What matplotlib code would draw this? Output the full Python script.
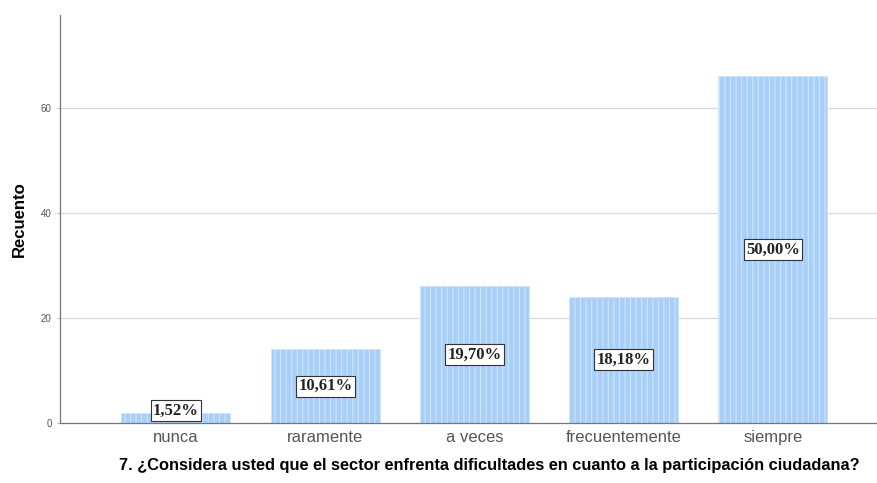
import matplotlib
matplotlib.use("Agg")
import matplotlib.pyplot as plt

categories = ["nunca", "raramente", "a veces", "frecuentemente", "siempre"]
counts = [2, 14, 26, 24, 66]
pct_labels = ["1,52%", "10,61%", "19,70%", "18,18%", "50,00%"]
y_ticks = [0, 20, 40, 60]

plt.rcParams['hatch.color'] = '#CFE4FA'
plt.rcParams['hatch.linewidth'] = 0.8

fig = plt.figure(figsize=(8.77, 4.83), dpi=100)
ax = fig.add_axes([0.0684, 0.1242, 0.9316, 0.845])

x = list(range(len(categories)))
ax.bar(x, counts, width=0.73, color='#A8CFF8', edgecolor='#CFE4FA', linewidth=0.6,
       hatch='|||', zorder=2)

for xi, c, lab in zip(x, counts, pct_labels):
    ypos = max(c / 2, 2.4)
    ax.text(xi, ypos, lab, ha='center', va='center', fontsize=12, fontweight='bold',
            family='Liberation Serif', color='#222222', zorder=4,
            bbox=dict(boxstyle='square,pad=0.15', facecolor='white', edgecolor='#333333', linewidth=0.8))

ax.set_xlim(-0.777, 4.697)
ax.set_ylim(0, 77.7)
ax.set_yticks(y_ticks)
ax.set_yticklabels([str(v) for v in y_ticks], fontsize=7, color='#555555', family='Liberation Sans')
ax.set_xticks(x)
ax.set_xticklabels(categories, fontsize=12, color='#555555', family='Liberation Sans')
ax.tick_params(axis='x', length=0, pad=5)
ax.tick_params(axis='y', length=2, color='#BBBBBB', pad=4)

ax.yaxis.grid(True, color='#D9D9D9', linewidth=0.9, zorder=0)
ax.set_axisbelow(True)
for s in ['top', 'right']:
    ax.spines[s].set_visible(False)
ax.spines['left'].set_color('#777777')
ax.spines['bottom'].set_color('#777777')
ax.spines['left'].set_linewidth(0.9)
ax.spines['bottom'].set_linewidth(0.9)

ax.set_ylabel("Recuento", fontsize=12, fontweight='bold', family='Liberation Sans', labelpad=10)
ax.set_xlabel("7. ¿Considera usted que el sector enfrenta dificultades en cuanto a la participación ciudadana?",
              fontsize=11.75, fontweight='bold', family='Liberation Sans', labelpad=10)
ax.xaxis.set_label_coords(0.526, -0.085)

fig.savefig("out.png", dpi=100)
